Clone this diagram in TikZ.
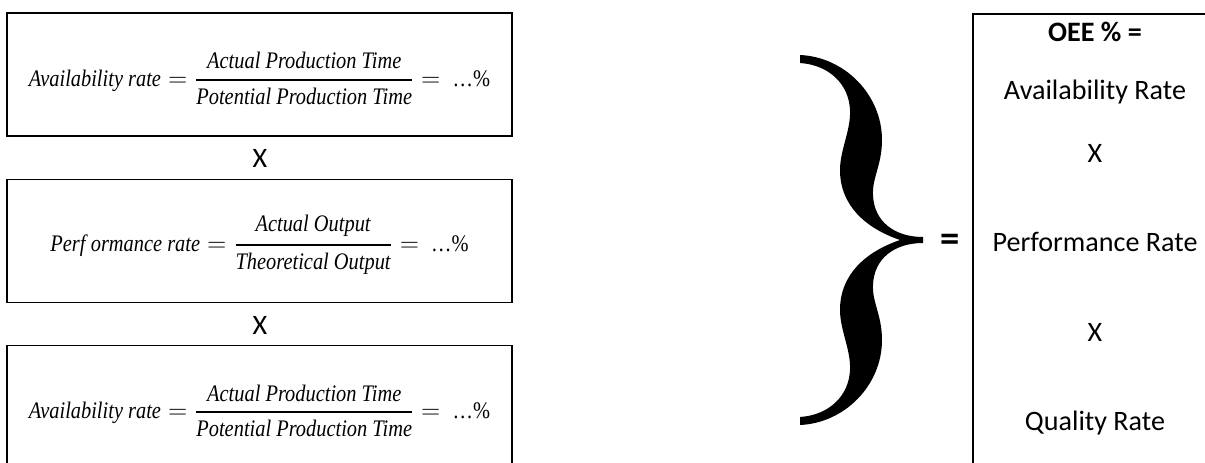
\documentclass[tikz,border=0pt]{standalone}
\usepackage{amsmath}
\usepackage{fontspec}
\newfontfamily\calibri{Carlito}
\newfontfamily\cambria[FakeStretch=0.86]{Liberation Serif}
\newcommand{\ratefrac}[2]{\genfrac{}{}{1.3pt}{0}{\text{\itshape #1}}{\text{\itshape #2}}}
\newcommand{\lowered}[1]{\raisebox{-0.08cm}[\height][\depth]{#1}}

\begin{document}
\begin{tikzpicture}[x=0.02cm,y=-0.02cm,
    ratebox/.style={draw,line width=1.1pt,minimum width=10.1cm,minimum height=2.46cm,inner sep=0pt,font=\cambria\fontsize{13.5}{16}\selectfont},
    times/.style={inner sep=1pt,font=\calibri\fontsize{16}{18}\selectfont},
    oeetext/.style={inner sep=1pt,font=\calibri\fontsize{16}{18}\selectfont}
]
\useasboundingbox (0,0) rectangle (1205,463);

\node[ratebox] (avail)  at (259.5,74.5) {\lowered{$\text{\itshape Availability rate} = \ratefrac{Actual Production Time}{Potential Production Time} = \ \text{\ldots\%}$}};
\node[ratebox] (perf)   at (259.5,241)  {\lowered{$\text{\itshape Perf\kern3pt ormance rate} = \ratefrac{Actual Output}{Theoretical Output} = \ \text{\ldots\%}$}};
\node[ratebox] (avail2) at (259.5,407)  {\lowered{$\text{\itshape Availability rate} = \ratefrac{Actual Production Time}{Potential Production Time} = \ \text{\ldots\%}$}};
\node[times]   (x1)     at (260,158)    {X};
\node[times]   (x2)     at (260,325)    {X};

\fill (800,55) .. controls (845,57) and (882,95) .. (882,140)
    .. controls (882,165) and (872,178) .. (873,195)
    .. controls (874,222) and (895,237) .. (923,237)
    -- (923,243)
    .. controls (895,243) and (874,258) .. (873,285)
    .. controls (872,302) and (882,315) .. (882,340)
    .. controls (882,385) and (845,423) .. (800,425)
    -- (800,417)
    .. controls (830,415) and (849,395) .. (850,370)
    .. controls (851,350) and (840,330) .. (840,310)
    .. controls (840,275) and (865,252) .. (900,240)
    .. controls (865,228) and (840,205) .. (840,170)
    .. controls (840,150) and (851,130) .. (850,110)
    .. controls (849,85) and (830,65) .. (800,63) -- cycle;

\node[inner sep=1pt,font=\calibri\bfseries\fontsize{22}{24}\selectfont] (eq) at (950,243) {=};

\node[draw,line width=1.1pt,minimum width=4.88cm,minimum height=9.3cm] (oee) at (1095,246) {};
\node[oeetext,font=\calibri\bfseries\fontsize{16}{18}\selectfont] (oeehead) at (1095,32) {OEE \% =};
\node[oeetext] (ar) at (1095,92)  {Availability Rate};
\node[oeetext] (x3) at (1095,153) {X};
\node[oeetext] (pr) at (1095,242) {Performance Rate};
\node[oeetext] (x4) at (1095,332) {X};
\node[oeetext] (qr) at (1095,423) {Quality Rate};
\end{tikzpicture}
\end{document}
